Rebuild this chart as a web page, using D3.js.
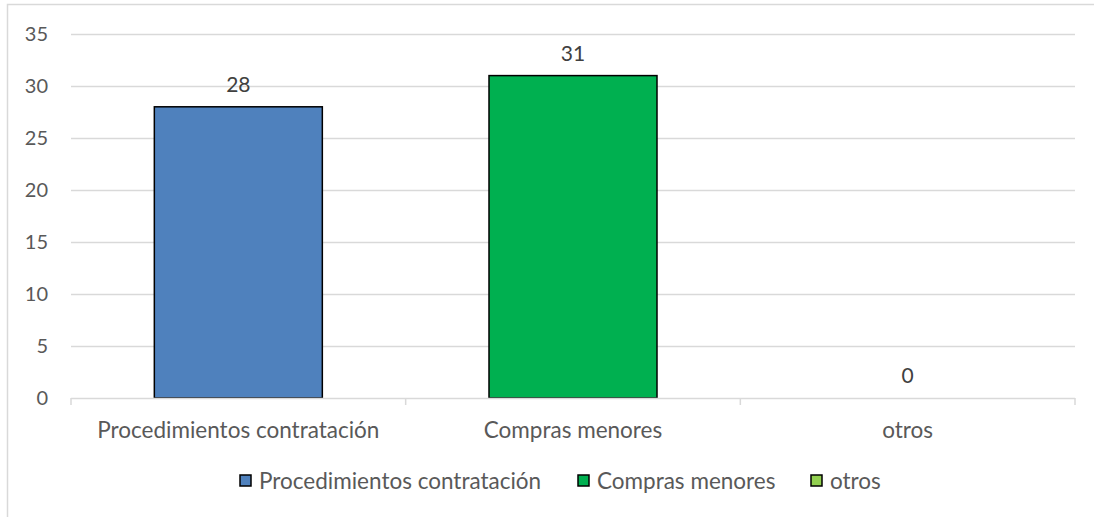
<!DOCTYPE html>
<html>
<head>
<meta charset="utf-8">
<script src="https://cdn.jsdelivr.net/npm/d3@7"></script>
<style>
html,body{margin:0;padding:0;background:#fff;}
svg{display:block;}
text{font-family:"Lato","Open Sans",sans-serif;fill:#595959;}
</style>
</head>
<body>
<svg id="chart" width="1094" height="517"></svg>
<script>
const categories = ["Procedimientos contratación", "Compras menores", "otros"];
const values = [28, 31, 0];
const colors = ["#4f81bd", "#00b050", "#92d050"];
const yTicks = [0, 5, 10, 15, 20, 25, 30, 35];

const svg = d3.select("#chart");
const W = 1094, H = 517;
const m = {left: 71, right: 19, top: 34, bottom: 119};

// chart border
svg.append("path")
  .attr("d", `M7.5,${H} V4.5 H${W}`)
  .attr("fill", "none").attr("stroke", "#d9d9d9").attr("stroke-width", 1.5);

const x = d3.scaleBand().domain(categories).range([m.left, W - m.right]).paddingInner(0).paddingOuter(0);
const y = d3.scaleLinear().domain([0, 35]).range([H - m.bottom, m.top]);

// gridlines
svg.append("g").selectAll("line").data(yTicks.filter(d => d > 0)).join("line")
  .attr("x1", m.left).attr("x2", W - m.right)
  .attr("y1", d => Math.round(y(d)) + 0.5).attr("y2", d => Math.round(y(d)) + 0.5)
  .attr("stroke", "#d9d9d9").attr("stroke-width", 1.5);

// y labels
const yAxis = d3.axisLeft(y).tickValues(yTicks).tickSize(0).tickPadding(23);
const gy = svg.append("g").attr("transform", `translate(${m.left},0)`).call(yAxis);
gy.select(".domain").remove();
gy.selectAll("text").style("font-size", "20px").style("fill", "#595959").style("font-family", "Lato");

// bars
const bw = x.bandwidth() * 0.502;
svg.append("g").selectAll("rect").data(values).join("rect")
  .attr("x", (d, i) => x(categories[i]) + (x.bandwidth() - bw) / 2)
  .attr("width", bw)
  .attr("y", d => y(d))
  .attr("height", d => y(0) - y(d))
  .attr("fill", (d, i) => colors[i])
  .attr("stroke", "#000").attr("stroke-width", 1.5)
  .style("display", d => d > 0 ? null : "none");

// x axis
const gx = svg.append("g").attr("transform", `translate(0,${y(0)})`);
gx.append("line").attr("x1", m.left).attr("x2", W - m.right).attr("y1", 0.5).attr("y2", 0.5)
  .attr("stroke", "#d9d9d9").attr("stroke-width", 1.5);
const tickPos = categories.map(c => x(c)).concat([x(categories[categories.length - 1]) + x.bandwidth()]);
gx.selectAll("line.tk").data(tickPos).join("line").attr("class", "tk")
  .attr("x1", d => d).attr("x2", d => d).attr("y1", 0).attr("y2", 7)
  .attr("stroke", "#d9d9d9").attr("stroke-width", 1.5);
gx.selectAll("text.cat").data(categories).join("text").attr("class", "cat")
  .attr("x", d => x(d) + x.bandwidth() / 2).attr("y", 40)
  .attr("text-anchor", "middle").style("font-size", "22.5px").text(d => d);

// data labels
svg.append("g").selectAll("text").data(values).join("text")
  .attr("x", (d, i) => x(categories[i]) + x.bandwidth() / 2)
  .attr("y", d => y(d) - 15)
  .attr("text-anchor", "middle").style("font-size", "21px").style("fill", "#404040")
  .text(d => d);

// legend
const legendX = [240, 578, 811];
const lg = svg.append("g").selectAll("g").data(categories).join("g")
  .attr("transform", (d, i) => `translate(${legendX[i]},475)`);
lg.append("rect").attr("width", 11).attr("height", 11)
  .attr("fill", (d, i) => colors[i]).attr("stroke", "#000").attr("stroke-width", 1.5);
lg.append("text").attr("x", 19).attr("y", 14).style("font-size", "22.5px").text(d => d);
</script>
</body>
</html>
